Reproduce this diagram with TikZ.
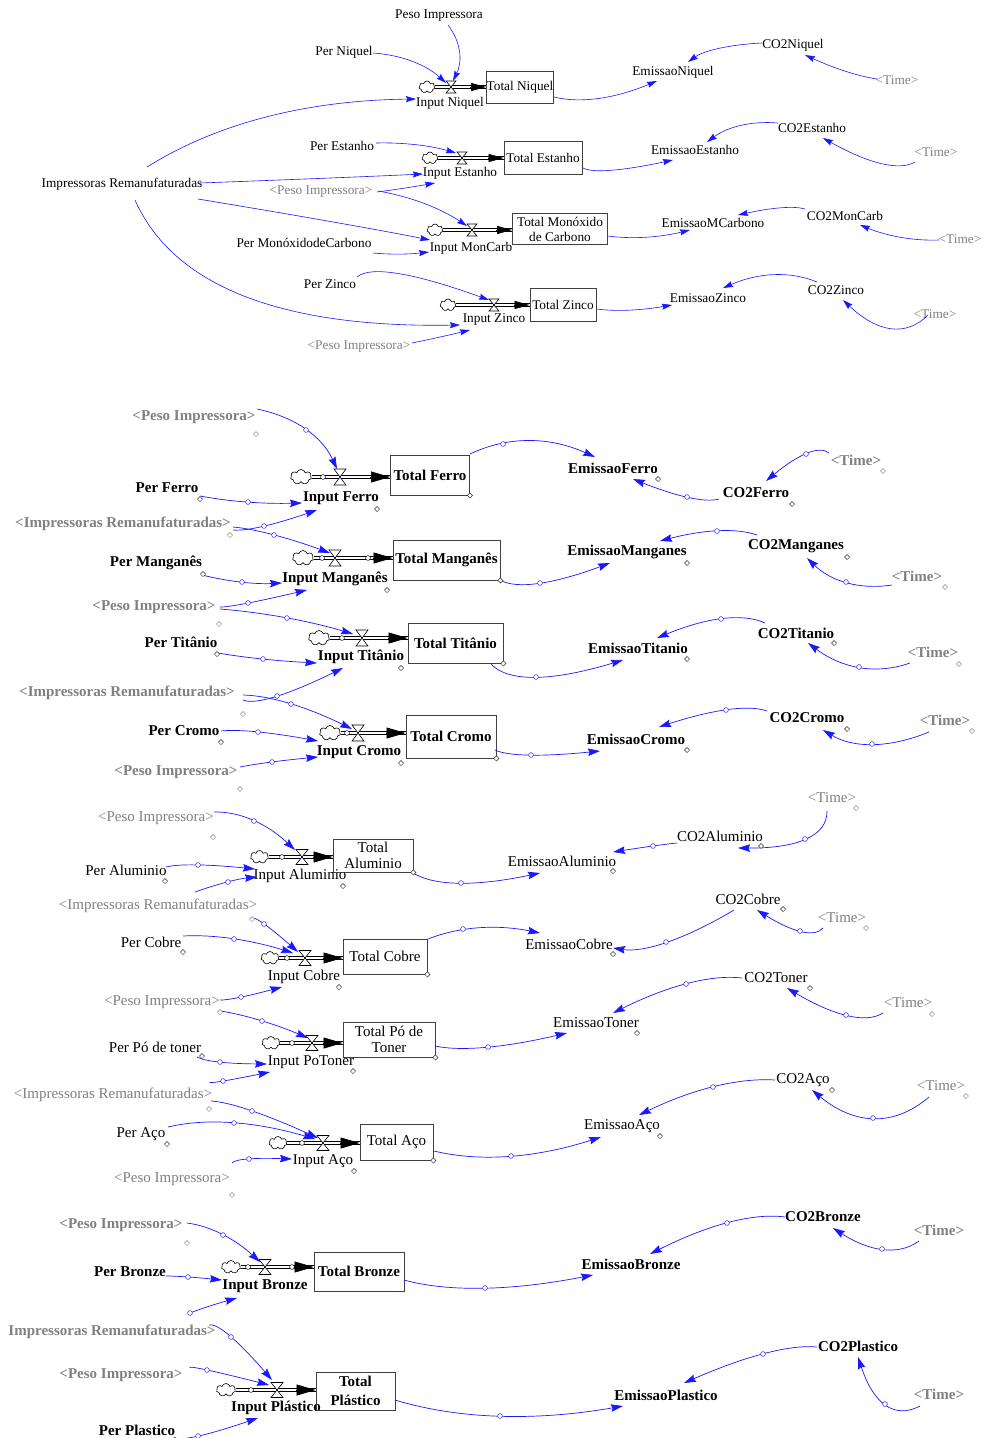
\documentclass[tikz,border=0pt]{standalone}
\usepackage{fontspec}
\setmainfont{Liberation Serif}
\usetikzlibrary{arrows.meta,shapes.symbols,calc}
\definecolor{linkblue}{RGB}{25,25,255}
\newcommand\FontA{\fontsize{13.3}{15}\selectfont}
\newcommand\FontB{\bfseries\fontsize{15}{17}\selectfont}
\newcommand\FontC{\fontsize{15}{16}\selectfont}
\tikzset{
  lbl/.style={inner sep=0pt,outer sep=0pt},
  tA/.style={lbl,font=\FontA},
  gA/.style={tA,text=black!50},
  tB/.style={lbl,font=\FontB},
  gB/.style={tB,text=black!50},
  tC/.style={lbl,font=\FontC},
  gC/.style={tC,text=black!50},
  stock/.style={draw=black!75,line width=0.9pt,inner sep=0pt,align=center},
  lnk/.style={draw=linkblue,line width=0.7pt,-{Stealth[length=12pt,width=7.5pt,inset=1.5pt]}},
  lnkA/.style={draw=linkblue,line width=0.6pt,-{Stealth[length=10pt,width=6pt,inset=1.2pt]}},
  hdl/.style={draw=linkblue,fill=white,line width=0.5pt},
  dmd/.style={draw=black!80,fill=white,line width=0.5pt},
  dmdg/.style={draw=black!45,fill=white,line width=0.5pt},
  pipe/.style={draw=black,line width=0.6pt,double=white,double distance=2.4pt},
  ftip/.style={line width=0.6pt,-{Triangle[length=19pt,width=11pt]}},
  ftipA/.style={line width=0.6pt,-{Triangle[length=15pt,width=8pt]}},
  vlv/.style={inner sep=0pt,outer sep=0pt},
  cld/.style={cloud,draw=black,line width=0.6pt,cloud puffs=7,cloud ignores aspect,inner sep=0pt,fill=white},
  cldA/.style={cld,minimum width=16pt,minimum height=12pt},
  cldB/.style={cld,minimum width=21pt,minimum height=15pt},
  cldC/.style={cld,minimum width=18pt,minimum height=13pt},
  phdl/.style={draw=black,fill=white,line width=0.5pt},
}
% valve: name, position, width, height
\newcommand\valve[4]{\node[vlv,minimum width=#3pt,minimum height=#4pt] (#1) at (#2) {};
  \draw[line width=0.6pt,fill=white] (#1.north west) -- (#1.north east) -- (#1.south west) -- (#1.south east) -- cycle;}
% information link as a curve through a middle point:
% style, start node, offset, middle point, end node, offset
\newcommand\connX[6]{%
  \path ([shift={(#3)}]#2.center) coordinate (qS) ([shift={(#6)}]#5.center) coordinate (qE);
  \path ($2*(#4)-0.5*(qS)-0.5*(qE)$) coordinate (qC);
  \draw[#1] ([shift={(#3)}]#2.center) .. controls ($(qS)!0.6667!(qC)$) and ($(qE)!0.6667!(qC)$) .. ([shift={(#6)}]#5.center);}
\newcommand\connA[5]{\connX{lnkA}{#1}{#2}{#3}{#4}{#5}}
\newcommand\connN[5]{\connX{lnk}{#1}{#2}{#3}{#4}{#5}}
\newcommand\conn[5]{\connN{#1}{#2}{#3}{#4}{#5}\draw[hdl] (#3) circle[radius=2.4pt];}
\newcommand\dm[2][dmd]{\draw[#1] (#2) +(2.6pt,0pt) -- +(0pt,2.6pt) -- +(-2.6pt,0pt) -- +(0pt,-2.6pt) -- cycle;}
\newcommand\pc[1]{\draw[phdl] (#1) circle[radius=2.4pt];}

\begin{document}
\begin{tikzpicture}[x=1pt,y=-1pt]
\useasboundingbox (0,0) rectangle (984,1438);
\fill[white] (0,0) rectangle (984,1438);

% ================= block 1: Niquel, Estanho, MonCarb, Zinco =================
\node[tA] (pesoA) at (439,16) {Peso Impressora};
\node[tA] (perNi) at (344,52) {Per Niquel};
\node[tA] (inNi) at (450,103) {Input Niquel};
\node[stock,font=\FontA,minimum width=67pt,minimum height=32pt] (totNi) at (520,87) {Total Niquel};
\node[tA] (emNi) at (673,72) {EmissaoNiquel};
\node[tA] (co2Ni) at (793,45) {CO2Niquel};
\node[gA] (timeNi) at (897,80) {<Time>};
\node[tA] (impA) at (122,184) {Impressoras Remanufaturadas};
\node[tA] (perEs) at (342,146) {Per Estanho};
\node[tA] (inEs) at (460,173) {Input Estanho};
\node[stock,font=\FontA,minimum width=78pt,minimum height=33pt] (totEs) at (543,158) {Total Estanho};
\node[tA] (emEs) at (695,150) {EmissaoEstanho};
\node[tA] (co2Es) at (812,128) {CO2Estanho};
\node[gA] (timeEs) at (936,152) {<Time>};
\node[gA] (pesoB) at (321,192) {<Peso Impressora>};
\node[tA] (perMc) at (304,243) {Per MonóxidodeCarbono};
\node[tA] (inMc) at (471,248) {Input MonCarb};
\node[stock,font=\FontA,minimum width=95pt,minimum height=31pt] (totMc) at (560,229) {Total Monóxido\\de Carbono};
\node[tA] (emMc) at (713,223) {EmissaoMCarbono};
\node[tA] (co2Mc) at (845,216) {CO2MonCarb};
\node[gA] (timeMc) at (960,239) {<Time>};
\node[tA] (perZn) at (330,284) {Per Zinco};
\node[tA] (inZn) at (494,320) {Input Zinco};
\node[stock,font=\FontA,minimum width=66pt,minimum height=33pt] (totZn) at (563,305) {Total Zinco};
\node[tA] (emZn) at (708,298) {EmissaoZinco};
\node[tA] (co2Zn) at (836,290) {CO2Zinco};
\node[gA] (timeZn) at (935,314) {<Time>};
\node[gA] (pesoC) at (359,347) {<Peso Impressora>};

% flows
\node[cldA] (cNi) at (427,87) {};
\path (cNi.east -| totNi.west) coordinate (pNi);
\draw[pipe] (cNi.east) -- (pNi);
\valve{vNi}{451,87}{10}{12}
\draw[ftipA] ([xshift=-16pt]pNi) -- (pNi);

\node[cldA] (cEs) at (430,158) {};
\path (cEs.east -| totEs.west) coordinate (pEs);
\draw[pipe] (cEs.east) -- (pEs);
\valve{vEs}{462,158}{10}{12}
\draw[ftipA] ([xshift=-16pt]pEs) -- (pEs);

\node[cldA] (cMc) at (435,230) {};
\path (cMc.east -| totMc.west) coordinate (pMc);
\draw[pipe] (cMc.east) -- (pMc);
\valve{vMc}{472,230}{10}{12}
\draw[ftipA] ([xshift=-16pt]pMc) -- (pMc);

\node[cldA] (cZn) at (448,305) {};
\path (cZn.east -| totZn.west) coordinate (pZn);
\draw[pipe] (cZn.east) -- (pZn);
\valve{vZn}{494,305}{10}{12}
\draw[ftipA] ([xshift=-16pt]pZn) -- (pZn);

% links
\connA{pesoA}{9,9}{459,52}{vNi}{2,-6}
\connA{perNi}{29,1}{413,62}{vNi}{-5,-4}
\connA{impA}{25,-17}{267,117}{inNi}{-34,-4}
\connA{impA}{78,-1}{330,178}{inEs}{-37,1}
\connA{perEs}{34,-3}{417,145}{vEs}{-6,-5}
\connA{pesoB}{56,0}{405,188}{inEs}{-25,10}
\connA{pesoB}{57,-1}{425,204}{vMc}{-5,-4}
\connA{impA}{76,15}{333,222}{inMc}{-41,-8}
\connA{perMc}{69,10}{400,254}{inMc}{-42,4}
\connA{perZn}{27,-7}{400,274}{vZn}{-5,-5}
\connA{impA}{13,16}{245,296}{inZn}{-34,5}
\connA{pesoC}{53,-4}{440,337}{inZn}{-24,10}
\connA{totNi}{34,10}{600,98}{emNi}{-16,9}
\connA{co2Ni}{-31,-2}{718,49}{emNi}{15,-10}
\connA{timeNi}{-20,-1}{845,71}{co2Ni}{12,10}
\connA{totEs}{40,10}{613,170}{emEs}{-22,10}
\connA{co2Es}{-34,-5}{740,126}{emEs}{12,-8}
\connA{timeEs}{-21,10}{880,163}{co2Es}{11,10}
\connA{totMc}{48,7}{647,237}{emMc}{-23,7}
\connA{co2Mc}{-40,-7}{780,208}{emMc}{25,-8}
\connA{timeMc}{-21,1}{900,237}{co2Mc}{15,9}
\connA{totZn}{34,4}{630,310}{emZn}{-36,7}
\connA{co2Zn}{-19,-8}{773,275}{emZn}{15,-10}
\connA{timeZn}{-7,1}{890,328}{co2Zn}{7,10}

% ================= block 2: Ferro, Manganes, Titanio, Cromo =================
\node[gB] (pesoD) at (194,417) {<Peso Impressora>};
\node[tB] (perFe) at (167,488) {Per Ferro};
\node[tB] (inFe) at (341,498) {Input Ferro};
\node[stock,font=\FontB,minimum width=79pt,minimum height=40pt] (totFe) at (430,475) {Total Ferro};
\node[gB] (impB) at (123,524) {<Impressoras Remanufaturadas>};
\node[tB] (perMg) at (156,563) {Per Manganês};
\node[tB] (inMg) at (335,579) {Input Manganês};
\node[stock,font=\FontB,minimum width=107pt,minimum height=40pt] (totMg) at (446.5,560) {Total Manganês};
\node[gB] (pesoE) at (154,607) {<Peso Impressora>};
\node[tB] (perTi) at (181,642) {Per Titânio};
\node[tB] (inTi) at (361,657) {Input Titânio};
\node[stock,font=\FontB,minimum width=95pt,minimum height=40pt] (totTi) at (455.5,643) {Total Titânio};
\node[gB] (impC) at (127,693) {<Impressoras Remanufaturadas>};
\node[tB] (perCr) at (184,731) {Per Cromo};
\node[tB] (inCr) at (359,752) {Input Cromo};
\node[stock,font=\FontB,minimum width=90pt,minimum height=43pt] (totCr) at (451,736.5) {Total Cromo};
\node[gB] (pesoF) at (176,772) {<Peso Impressora>};
\node[tB] (emFe) at (613,468) {EmissaoFerro};
\node[tB] (co2Fe) at (756,493) {CO2Ferro};
\node[gB] (timeFe) at (856,460) {<Time>};
\node[tB] (emMg) at (627,552) {EmissaoManganes};
\node[tB] (co2Mg) at (796,546) {CO2Manganes};
\node[gB] (timeMg) at (917,576) {<Time>};
\node[tB] (emTi) at (638,648) {EmissaoTitanio};
\node[tB] (co2Ti) at (796,633) {CO2Titanio};
\node[gB] (timeTi) at (933,652) {<Time>};
\node[tB] (emCr) at (636,739) {EmissaoCromo};
\node[tB] (co2Cr) at (807,718) {CO2Cromo};
\node[gB] (timeCr) at (945,720) {<Time>};

\node[cldB] (cFe) at (301,477) {};
\path (cFe.east -| totFe.west) coordinate (pFe);
\draw[pipe] (cFe.east) -- (pFe);
\valve{vFe}{340,477}{12}{16}
\pc{323,477}
\draw[ftip] ([xshift=-20pt]pFe) -- (pFe);

\node[cldB] (cMg) at (303,558) {};
\path (cMg.east -| totMg.west) coordinate (pMg);
\draw[pipe] (cMg.east) -- (pMg);
\valve{vMg}{335,558}{12}{16}
\pc{322,558}\pc{368,558}
\draw[ftip] ([xshift=-20pt]pMg) -- (pMg);

\node[cldB] (cTi) at (319,638) {};
\path (cTi.east -| totTi.west) coordinate (pTi);
\draw[pipe] (cTi.east) -- (pTi);
\valve{vTi}{362,638}{12}{16}
\pc{342,638}
\draw[ftip] ([xshift=-20pt]pTi) -- (pTi);

\node[cldB] (cCr) at (330,733) {};
\path (cCr.east -| totCr.west) coordinate (pCr);
\draw[pipe] (cCr.east) -- (pCr);
\valve{vCr}{358,733}{12}{16}
\pc{347,733}
\draw[ftip] ([xshift=-20pt]pCr) -- (pCr);

\conn{pesoD}{63,-8}{306,430}{vFe}{-3,-8}
\conn{perFe}{33,8}{248,502}{inFe}{-39,5}
\conn{impB}{110,6}{264,526}{inFe}{-24,12}
\conn{impB}{110,3}{274,535}{vMg}{-5,-5}
\conn{perMg}{46,12}{242,582}{inMg}{-53,4}
\conn{pesoE}{66,0}{248,603}{inMg}{-28,11}
\conn{pesoE}{66,2}{287,618}{vTi}{-9,-4}
\conn{perTi}{37,11}{263,659}{inTi}{-44,6}
\conn{impC}{116,7}{277,696}{inTi}{-18,11}
\conn{impC}{116,2}{291,704}{vCr}{-6,-4}
\conn{perCr}{37,0}{258,732}{inCr}{-41,-11}
\conn{pesoF}{64,-5}{272,762}{inCr}{-41,5}
\connN{totFe}{40,-21}{530,441}{emFe}{-18,-11}
\draw[hdl] (503,444) circle[radius=2.4pt];
\conn{co2Fe}{-37,6}{687,497}{emFe}{20,11}
\conn{timeFe}{-27,-7}{806,454}{co2Fe}{10,-12}
\conn{totMg}{53.5,20}{540,583}{emMg}{-17,11}
\conn{co2Mg}{-39,-11}{717,531}{emMg}{33,-11}
\conn{timeMg}{-25,9}{846,582}{co2Mg}{11,12}
\conn{totTi}{34.5,20}{536,677}{emTi}{-15,12}
\conn{co2Ti}{-31,-10}{721,619}{emTi}{19,-10}
\conn{timeTi}{-23,11}{859,667}{co2Ti}{12,10}
\conn{totCr}{44,13.5}{531,755}{emCr}{-36,12}
\conn{co2Cr}{-40,-7}{726,710}{emCr}{23,-12}
\conn{timeCr}{-16,12}{872,744}{co2Cr}{16,12}

% selection marks
\dm[dmdg]{256,434}\dm{200,499}\dm{377,509}\dm{totFe.south east}
\dm[dmdg]{230,535}\dm{203,574}\dm{387,590}\dm{totMg.south east}
\dm[dmdg]{219,624}\dm{217,654}\dm{401,668}\dm{totTi.south east}
\dm[dmdg]{243,714}\dm{221,742}\dm{401,763}\dm{totCr.south east}
\dm[dmdg]{240,789}
\dm{658,479}\dm{792,504}\dm[dmdg]{883,471}
\dm{687,563}\dm{847,557}\dm[dmdg]{945,587}
\dm{687,659}\dm{834,643}\dm[dmdg]{959,664}
\dm{687,750}\dm{847,729}\dm[dmdg]{972,731}

% ================= block 3: Aluminio, Cobre, Po de toner, Aco =================
\node[gC] (pesoG) at (156,818) {<Peso Impressora>};
\node[tC] (perAl) at (126,870) {Per Aluminio};
\node[tC] (inAl) at (300,876) {Input Aluminio};
\node[stock,font=\FontC,minimum width=80pt,minimum height=33pt] (totAl) at (373,855.5) {Total\\Aluminio};
\node[gC] (impD) at (158,906) {<Impressoras Remanufaturadas>};
\node[tC] (perCo) at (151,942) {Per Cobre};
\node[tC] (inCo) at (304,977) {Input Cobre};
\node[stock,font=\FontC,minimum width=84pt,minimum height=35pt] (totCo) at (385,956.5) {Total Cobre};
\node[gC] (pesoH) at (162,1002) {<Peso Impressora>};
\node[tC] (perPt) at (155,1047) {Per Pó de toner};
\node[tC] (inPt) at (311,1062) {Input PoToner};
\node[stock,font=\FontC,minimum width=92pt,minimum height=35pt] (totPt) at (389,1039.5) {Total Pó de\\Toner};
\node[gC] (impE) at (113,1095) {<Impressoras Remanufaturadas>};
\node[tC] (perAc) at (141,1134) {Per Aço};
\node[tC] (inAc) at (323,1161) {Input Aço};
\node[stock,font=\FontC,minimum width=73pt,minimum height=36pt] (totAc) at (396.5,1142) {Total Aço};
\node[gC] (pesoI) at (172,1179) {<Peso Impressora>};
\node[tC] (emAl) at (562,861) {EmissaoAluminio};
\node[tC] (co2Al) at (720,836) {CO2Aluminio};
\node[gC] (timeAl) at (832,798) {<Time>};
\node[tC] (emCo) at (569,944) {EmissaoCobre};
\node[tC] (co2Co) at (748,899) {CO2Cobre};
\node[gC] (timeCo) at (842,918) {<Time>};
\node[tC] (emPt) at (596,1023) {EmissaoToner};
\node[tC] (co2Pt) at (776,978) {CO2Toner};
\node[gC] (timePt) at (908,1003) {<Time>};
\node[tC] (emAc) at (622,1126) {EmissaoAço};
\node[tC] (co2Ac) at (803,1080) {CO2Aço};
\node[gC] (timeAc) at (941,1086) {<Time>};

\node[cldC] (cAl) at (259.5,857) {};
\path (cAl.east -| totAl.west) coordinate (pAl);
\draw[pipe] (cAl.east) -- (pAl);
\valve{vAl}{302,857}{12}{15}
\pc{282,857}
\draw[ftip] ([xshift=-20pt]pAl) -- (pAl);

\node[cldC] (cCo) at (270,958) {};
\path (cCo.east -| totCo.west) coordinate (pCo);
\draw[pipe] (cCo.east) -- (pCo);
\valve{vCo}{305,958}{12}{15}
\pc{287,958}
\draw[ftip] ([xshift=-20pt]pCo) -- (pCo);

\node[cldC] (cPt) at (271,1043) {};
\path (cPt.east -| totPt.west) coordinate (pPt);
\draw[pipe] (cPt.east) -- (pPt);
\valve{vPt}{312,1043}{12}{15}
\pc{292,1043}
\draw[ftip] ([xshift=-20pt]pPt) -- (pPt);

\node[cldC] (cAc) at (278,1143) {};
\path (cAc.east -| totAc.west) coordinate (pAc);
\draw[pipe] (cAc.east) -- (pAc);
\valve{vAc}{323,1143}{12}{15}
\pc{302,1143}
\draw[ftip] ([xshift=-20pt]pAc) -- (pAc);

\conn{pesoG}{58,-6}{254,821}{vAl}{-7,-7}
\conn{perAl}{40,-3}{198,865}{inAl}{-45,-7}
\conn{impD}{37,-14}{228,882}{inAl}{-43,1}
\conn{impD}{94,13}{264,924}{vCo}{-7,-6}
\conn{perCo}{32,-6}{234,939}{vCo}{-12,-5}
\conn{pesoH}{58,-2}{241,997}{inCo}{-22,10}
\conn{pesoH}{59,9}{262,1021}{vPt}{-4,-5}
\conn{perPt}{42,10}{220,1062}{inPt}{-44,2}
\conn{impE}{97,-13}{223,1081}{inPt}{-41,10}
\conn{impE}{98,6}{252,1111}{vAc}{-5,-5}
\conn{perAc}{27,-7}{234,1123}{vAc}{-8,-4}
\conn{pesoI}{60,-16}{249,1159}{inAc}{-31,-2}
\conn{totAl}{40,17.5}{461,883}{emAl}{-22,12}
\conn{co2Al}{-43,7}{653,846}{emAl}{51,-9}
\conn{timeAl}{-5,13}{805,839}{co2Al}{18,12}
\connN{totCo}{43,-17.5}{480,928}{emCo}{-29,-11}
\draw[hdl] (463,929) circle[radius=2.4pt];
\conn{co2Co}{-14,11}{666,942}{emCo}{44,4}
\conn{timeCo}{-19,10}{800,931}{co2Co}{9,11}
\conn{totPt}{46,6.5}{488,1047}{emPt}{-29,10}
\conn{co2Pt}{-34,0}{686,984}{emPt}{17,-10}
\conn{timePt}{-25,10}{846,1015}{co2Pt}{11,10}
\conn{totAc}{37.5,9}{511,1156}{emAc}{-21,11}
\conn{co2Ac}{-28,0}{713,1087}{emAc}{17,-11}
\conn{timeAc}{-12,11}{873,1118}{co2Ac}{9,10}

\dm[dmdg]{213,837}\dm{165,881}\dm{343,886}\dm{totAl.south east}
\dm[dmdg]{252,919}\dm{183,952}\dm{339,987}\dm{totCo.south east}
\dm[dmdg]{220,1012}\dm{202,1056}\dm{353,1071}\dm{totPt.south east}
\dm[dmdg]{209,1109}\dm{167,1144}\dm{354,1171}\dm{totAc.south east}
\dm[dmdg]{232,1195}
\dm{613,871}\dm{761,846}\dm[dmdg]{856,808}
\dm{613,954}\dm{783,909}\dm[dmdg]{866,928}
\dm{637,1033}\dm{810,988}\dm[dmdg]{932,1014}
\dm{660,1136}\dm{832,1090}\dm[dmdg]{966,1096}

% ================= block 4: Bronze, Plastico =================
\node[gB] (pesoJ) at (121,1225) {<Peso Impressora>};
\node[tB] (perBr) at (130,1272) {Per Bronze};
\node[tB] (inBr) at (265,1286) {Input Bronze};
\node[stock,font=\FontB,minimum width=90pt,minimum height=39pt] (totBr) at (359,1271.5) {Total Bronze};
\node[gB] (impF) at (112,1332) {Impressoras Remanufaturadas>};
\node[gB] (pesoK) at (121,1375) {<Peso Impressora>};
\node[tB] (inPl) at (276,1408) {Input Plástico};
\node[stock,font=\FontB,minimum width=79pt,minimum height=38pt] (totPl) at (355.5,1391) {Total\\[2pt]Plástico};
\node[tB] (perPl) at (137,1430) {Per Plastico};
\node[tB] (emBr) at (631,1264) {EmissaoBronze};
\node[tB] (co2Br) at (823,1217) {CO2Bronze};
\node[gB] (timeBr) at (939,1230) {<Time>};
\node[tB] (emPl) at (666,1395) {EmissaoPlastico};
\node[tB] (co2Pl) at (858,1346) {CO2Plastico};
\node[gB] (timePl) at (939,1394) {<Time>};

\node[cldC,minimum width=19pt] (cBr) at (231,1267) {};
\path (cBr.east -| totBr.west) coordinate (pBr);
\draw[pipe] (cBr.east) -- (pBr);
\valve{vBr}{265,1267}{12}{15}
\pc{248,1267}\pc{292,1267}
\draw[ftip] ([xshift=-20pt]pBr) -- (pBr);

\node[cldC,minimum width=19pt] (cPl) at (226,1390) {};
\path (cPl.east -| totPl.west) coordinate (pPl);
\draw[pipe] (cPl.east) -- (pPl);
\valve{vPl}{277,1390}{12}{15}
\pc{251,1390}
\draw[ftip] ([xshift=-20pt]pPl) -- (pPl);

\conn{pesoJ}{66,-2}{223,1235}{vBr}{-5,-5}
\conn{perBr}{36,4}{188,1277}{inBr}{-43,-6}
\connN{impF}{78,-19}{210,1306}{inBr}{-28,12}
\draw[hdl] (190,1313) circle[radius=2.4pt];
\conn{impF}{97,-7}{231,1337}{vPl}{-5,-10}
\conn{pesoK}{69,-7}{207,1370}{vPl}{-8,-5}
\conn{perPl}{37,7}{198,1436}{inPl}{-18,10}
\conn{totBr}{45,8.5}{485,1288}{emBr}{-38,11}
\conn{co2Br}{-38,0}{727,1223}{emBr}{19,-10}
\conn{timeBr}{-20,11}{882,1249}{co2Br}{10,11}
\conn{totPl}{39.5,9}{500,1416}{emPl}{-43,11}
\conn{co2Pl}{-41,1}{763,1354}{emPl}{18,-12}
\conn{timePl}{-19,12}{885,1404}{co2Pl}{0,11}
\dm[dmdg]{187,1243}
\end{tikzpicture}
\end{document}
